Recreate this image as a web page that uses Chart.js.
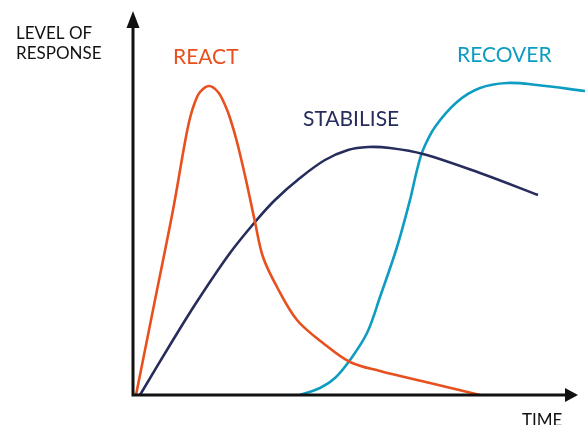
<!DOCTYPE html>
<html>
<head>
<meta charset="utf-8">
<script src="https://cdn.jsdelivr.net/npm/chart.js@4"></script>
<style>
  html, body { margin: 0; padding: 0; background: #fff; }
  #wrap { width: 585px; height: 425px; }
</style>
</head>
<body>
<div id="wrap"><canvas id="chart"></canvas></div>
<script>
// time axis runs 0..452, response 0..384 (origin at the corner of the axes)
const reactTime = [3, 22, 40, 52, 57, 62, 67, 76, 85, 92, 97, 104, 113, 122, 130, 144, 164, 190, 217, 247, 297, 347];
const reactLevel = [0, 95, 185, 253, 277, 293, 303, 309, 303, 290, 277, 253, 215, 173, 138, 108, 75, 52, 33, 24, 12, 0];

const stabiliseTime = [7, 40, 65, 97, 122, 142, 167, 192, 215, 235, 257, 290, 347, 405];
const stabiliseLevel = [0, 55, 95, 142, 173, 195, 217, 235, 245, 248, 247, 241, 222, 200];

const recoverTime = [167, 187, 202, 217, 234, 247, 264, 277, 284, 290, 302, 324, 347, 374, 404, 452];
const recoverLevel = [0, 7, 17, 35, 62, 98, 148, 195, 225, 245, 268, 293, 307, 312, 310, 304];

const timeEnd = 445; // where the x arrow stops
const levelEnd = 384;

const colors = { react: '#E8501E', stabilise: '#262C5C', recover: '#0E9CC1', axis: '#111111' };

function toPoints(xs, ys) {
  return xs.map((x, i) => ({ x: x, y: ys[i] }));
}

function line(label, xs, ys, color) {
  return {
    label: label,
    data: toPoints(xs, ys),
    borderColor: color,
    borderWidth: 2.6,
    pointRadius: 0,
    fill: false,
    tension: 0.35,
    clip: false
  };
}

const axesAndText = {
  id: 'axesAndText',
  afterDatasetsDraw(chart) {
    const ctx = chart.ctx;
    const x = chart.scales.x, y = chart.scales.y;
    const x0 = x.getPixelForValue(0), y0 = y.getPixelForValue(0);
    const xEnd = x.getPixelForValue(timeEnd), yEnd = y.getPixelForValue(levelEnd);

    ctx.save();
    ctx.strokeStyle = colors.axis;
    ctx.fillStyle = colors.axis;
    ctx.lineWidth = 3;
    ctx.beginPath();
    ctx.moveTo(x0, yEnd + 14);
    ctx.lineTo(x0, y0);
    ctx.lineTo(xEnd - 10, y0);
    ctx.stroke();

    // arrow heads
    ctx.beginPath();
    ctx.moveTo(x0, yEnd);
    ctx.lineTo(x0 - 6.5, yEnd + 17);
    ctx.lineTo(x0 + 6.5, yEnd + 17);
    ctx.closePath();
    ctx.fill();
    ctx.beginPath();
    ctx.moveTo(xEnd, y0);
    ctx.lineTo(xEnd - 13, y0 - 7);
    ctx.lineTo(xEnd - 13, y0 + 7);
    ctx.closePath();
    ctx.fill();

    ctx.textBaseline = 'alphabetic';
    ctx.textAlign = 'left';
    ctx.font = '17px Lato';
    ctx.fillText('LEVEL OF', 16, 39);
    ctx.fillText('RESPONSE', 16, 59);
    ctx.fillText('TIME', 522, 426);

    ctx.font = '21px Lato';
    ctx.fillStyle = colors.react;
    ctx.fillText('REACT', 173, 64);
    ctx.fillStyle = colors.stabilise;
    ctx.fillText('STABILISE', 303, 126);
    ctx.fillStyle = colors.recover;
    ctx.fillText('RECOVER', 457, 62);
    ctx.restore();
  }
};

new Chart(document.getElementById('chart'), {
  type: 'line',
  data: {
    datasets: [
      line('React', reactTime, reactLevel, colors.react),
      line('Stabilise', stabiliseTime, stabiliseLevel, colors.stabilise),
      line('Recover', recoverTime, recoverLevel, colors.recover)
    ]
  },
  options: {
    responsive: true,
    maintainAspectRatio: false,
    animation: false,
    layout: { padding: { left: 133, right: 0, top: 11, bottom: 30 } },
    plugins: { legend: { display: false }, tooltip: { enabled: false } },
    scales: {
      x: { type: 'linear', min: 0, max: 452, display: false },
      y: { type: 'linear', min: 0, max: levelEnd, display: false }
    }
  },
  plugins: [axesAndText]
});
</script>
</body>
</html>
